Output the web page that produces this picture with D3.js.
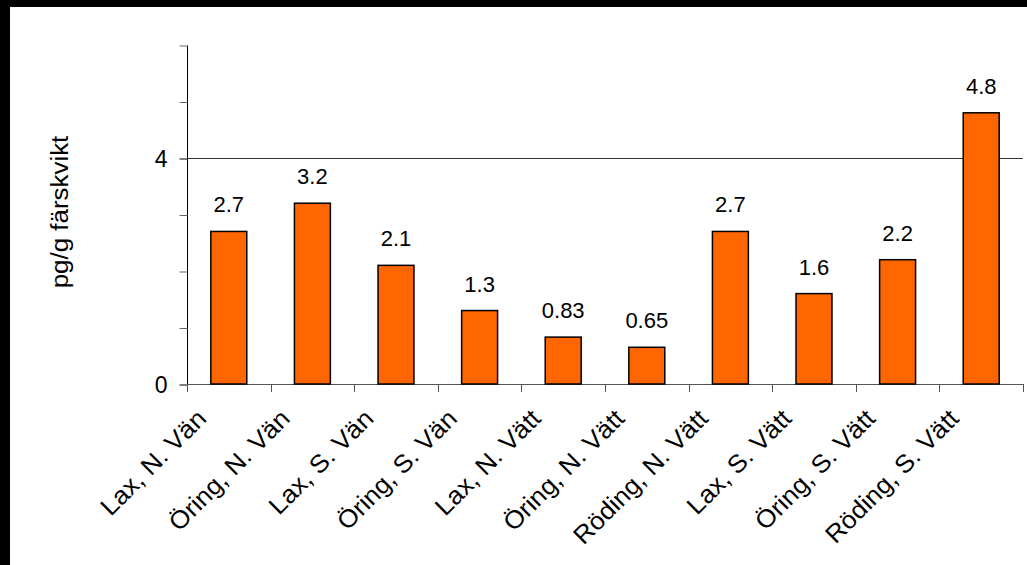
<!DOCTYPE html>
<html>
<head>
	<meta charset="utf-8">
	<title>pg/g färskvikt</title>
	<script src="https://d3js.org/d3.v7.min.js"></script>
	<style>
		body { margin: 0; background: #fff; }
		text { font-family: "Liberation Sans", Arial, sans-serif; fill: #000; }
	</style>
</head>
<body>
	<div id="chart"></div>
	<script>
		// Data
		var categories = ["Lax, N. Vän", "Öring, N. Vän", "Lax, S. Vän", "Öring, S. Vän", "Lax, N. Vätt",
			"Öring, N. Vätt", "Röding, N. Vätt", "Lax, S. Vätt", "Öring, S. Vätt", "Röding, S. Vätt"];
		var values = [2.7, 3.2, 2.1, 1.3, 0.83, 0.65, 2.7, 1.6, 2.2, 4.8];
		var valueLabels = ["2.7", "3.2", "2.1", "1.3", "0.83", "0.65", "2.7", "1.6", "2.2", "4.8"];
		var yTickValues = [0, 1, 2, 3, 4, 5, 6];
		var yTickLabels = [0, 4];
		var gridValues = [4];
		var yTitle = "pg/g färskvikt";

		var width = 1027, height = 565;
		var margin = { top: 45, right: 4, bottom: 181, left: 187 };

		var svg = d3.select("#chart")
			.append("svg")
			.attr("width", width)
			.attr("height", height);

		// black frame at top and left, like the screenshot
		svg.append("rect").attr("width", width).attr("height", 7).attr("fill", "#000");
		svg.append("rect").attr("width", 10).attr("height", height).attr("fill", "#000");

		var x = d3.scaleBand()
			.domain(categories)
			.range([margin.left, width - margin.right])
			.paddingInner(0.57)
			.paddingOuter(0.285);
		var y = d3.scaleLinear()
			.domain([0, 6])
			.range([height - margin.bottom, margin.top]);

		// gridline at 4
		svg.selectAll(".grid")
			.data(gridValues)
			.enter()
			.append("line")
			.attr("x1", margin.left)
			.attr("x2", width - margin.right)
			.attr("y1", d => Math.round(y(d)) + 0.5)
			.attr("y2", d => Math.round(y(d)) + 0.5)
			.attr("stroke", "#333")
			.attr("stroke-width", 1);

		// Y axis
		var yAxis = d3.axisLeft(y)
			.tickValues(yTickValues)
			.tickSize(8)
			.tickPadding(12)
			.tickFormat(d => yTickLabels.includes(d) ? d : "");
		var gy = svg.append("g")
			.attr("transform", "translate(" + (margin.left + 0.5) + ",0.5)")
			.call(yAxis);
		gy.select(".domain").attr("stroke", "#000").attr("d", "M0," + y(6) + "V" + y(0));
		gy.selectAll(".tick line").attr("stroke", d => yTickLabels.includes(d) ? "#000" : "#666");
		gy.selectAll(".tick text").attr("font-size", 23).attr("dy", "0.36em")
			.attr("font-family", "Liberation Sans, Arial, sans-serif");

		// X axis (ticks at category boundaries)
		var boundaries = categories.map(c => x(c) - x.step() * x.paddingInner() / 2)
			.concat([width - margin.right]);
		boundaries[0] = margin.left;
		svg.append("line")
			.attr("x1", margin.left)
			.attr("x2", width - margin.right)
			.attr("y1", y(0) + 0.5)
			.attr("y2", y(0) + 0.5)
			.attr("stroke", "#555");
		svg.selectAll(".xtick")
			.data(boundaries)
			.enter()
			.append("line")
			.attr("x1", d => Math.round(d) + 0.5)
			.attr("x2", d => Math.round(d) + 0.5)
			.attr("y1", y(0))
			.attr("y2", y(0) + 8)
			.attr("stroke", "#555");

		// Bars
		svg.selectAll(".bar")
			.data(values)
			.enter()
			.append("rect")
			.attr("x", (d, i) => x(categories[i]))
			.attr("y", d => y(d))
			.attr("width", x.bandwidth())
			.attr("height", d => y(0) - y(d))
			.attr("fill", "#FF6600")
			.attr("stroke", "#000")
			.attr("stroke-width", 1.5);

		// Value labels
		svg.selectAll(".val")
			.data(values)
			.enter()
			.append("text")
			.attr("x", (d, i) => x(categories[i]) + x.bandwidth() / 2)
			.attr("y", d => y(d) - 19)
			.attr("text-anchor", "middle")
			.attr("font-size", 22)
			.text((d, i) => valueLabels[i]);

		// Category labels, rotated
		svg.selectAll(".cat")
			.data(categories)
			.enter()
			.append("text")
			.attr("transform", d => "translate(" + (x(d) + x.bandwidth() / 2 - 21) + "," + (y(0) + 36) + ") rotate(-45) scale(1.05,1)")
			.attr("text-anchor", "end")
			.attr("font-size", 25)
			.text(d => d);

		// Y title
		svg.append("text")
			.attr("transform", "translate(68," + 212 + ") rotate(-90) scale(1.08,1)")
			.attr("text-anchor", "middle")
			.attr("font-size", 24)
			.text(yTitle);
	</script>
</body>
</html>
